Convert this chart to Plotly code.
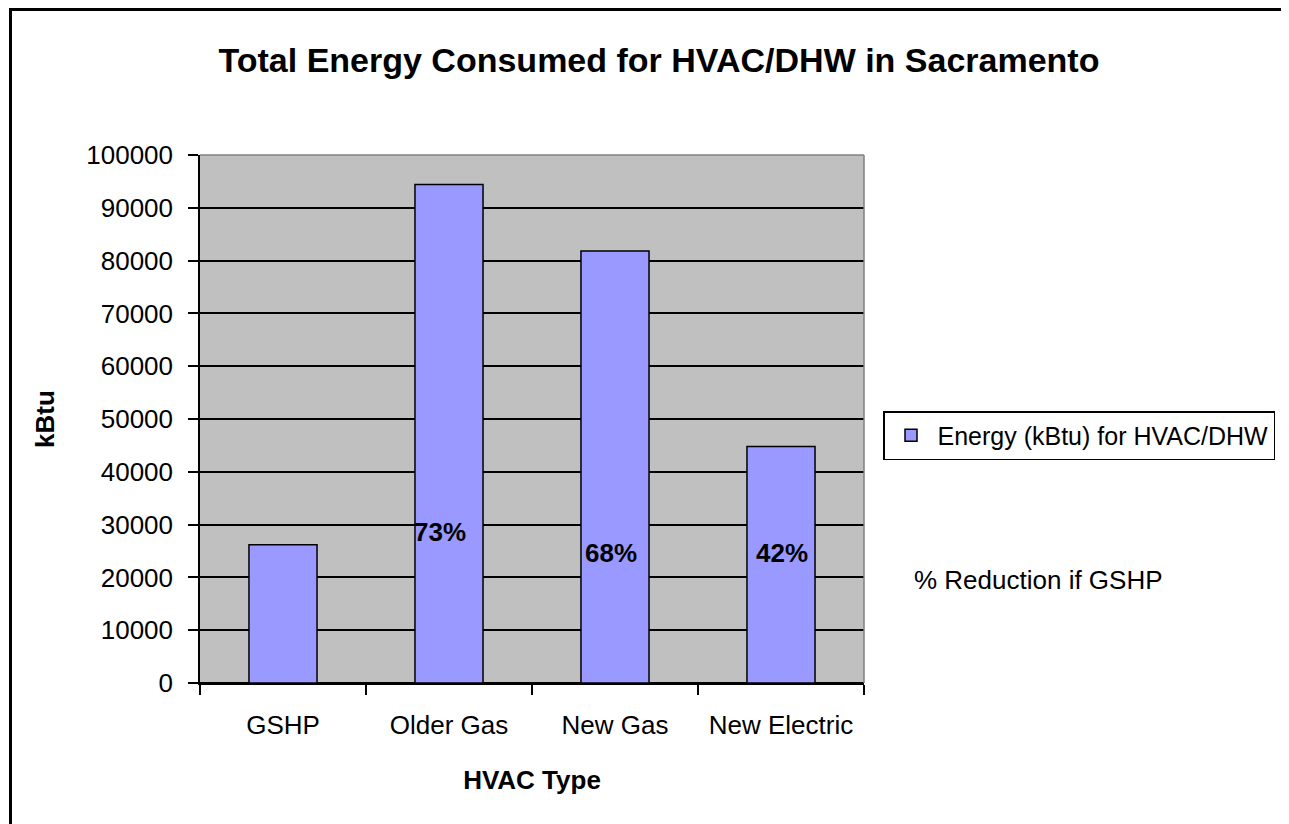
import plotly.graph_objects as go

categories = ["GSHP", "Older Gas", "New Gas", "New Electric"]
energy_kbtu = [26200, 94400, 81800, 44800]
series_name = "Energy (kBtu) for HVAC/DHW"
reduction_labels = ["", "73%", "68%", "42%"]
reduction_label_y = [None, 28600, 24600, 24600]

FONT = "Arial, Liberation Sans, sans-serif"
OFF = 8  # page body margin
W, H = 1289 - OFF, 824 - OFF
L, T = 200 - OFF, 155 - OFF
PW, PH = 664, 528
R = W - L - PW
B = H - T - PH


def px_x(sx):
    return (sx - 200) / PW


def px_y(sy):
    return (683 - sy) / PH


fig = go.Figure()
fig.add_trace(go.Bar(
    x=categories, y=energy_kbtu, name=series_name,
    marker=dict(color="#9999FF", line=dict(color="black", width=1.5)),
    showlegend=True,
))

shifts = [0, -9, -4, 1]
for cat, lab, yv, xs in zip(categories, reduction_labels, reduction_label_y, shifts):
    if lab:
        fig.add_annotation(x=cat, y=yv, text="<b>%s</b>" % lab, showarrow=False,
                           xshift=xs, font=dict(family=FONT, size=26, color="black"))

fig.add_annotation(xref="paper", yref="paper", x=px_x(912), y=px_y(580),
                   xanchor="left", yanchor="middle", text="% Reduction if GSHP",
                   showarrow=False, font=dict(family=FONT, size=26, color="black"))

# plot area top/right border (gray)
fig.add_shape(type="line", xref="paper", yref="paper", x0=0, x1=1, y0=1, y1=1,
              line=dict(color="#808080", width=1.5), layer="above")
fig.add_shape(type="line", xref="paper", yref="paper", x0=1, x1=1, y0=0, y1=1,
              line=dict(color="#808080", width=1.5), layer="above")
# chart outer border
fig.add_shape(type="rect", xref="paper", yref="paper",
              x0=px_x(10.5), x1=px_x(1310),
              y0=px_y(840), y1=px_y(9.5),
              line=dict(color="black", width=3), fillcolor="rgba(0,0,0,0)", layer="above")

fig.update_layout(
    width=W, height=H,
    margin=dict(l=L, r=R, t=T, b=B, autoexpand=False),
    paper_bgcolor="white", plot_bgcolor="#C0C0C0",
    bargap=0.59,
    font=dict(family=FONT, size=26, color="black"),
    title=dict(text="<b>Total Energy Consumed for HVAC/DHW in Sacramento</b>",
               x=(659 - OFF) / W, xanchor="center", y=1 - (60 - OFF) / H, yanchor="middle",
               font=dict(family=FONT, size=34, color="black")),
    legend=dict(x=px_x(883), y=px_y(411), xanchor="left", yanchor="top",
                bordercolor="black", borderwidth=1.5, bgcolor="white", itemwidth=43,
                font=dict(family=FONT, size=25, color="black")),
    xaxis=dict(
        type="category", tickson="boundaries", ticks="outside", ticklen=10,
        tickcolor="black", tickwidth=1.5, showline=True, linecolor="black", linewidth=1.5,
        showgrid=False, ticklabelstandoff=18,
        title=dict(text="<b>HVAC Type</b>", font=dict(family=FONT, size=26), standoff=32),
        automargin=False,
    ),
    yaxis=dict(
        range=[0, 100000], dtick=10000, tickformat="d",
        ticks="outside", ticklen=10, tickcolor="black", tickwidth=1.5,
        showline=True, linecolor="black", linewidth=1.5,
        showgrid=True, gridcolor="black", gridwidth=1.5,
        zeroline=True, zerolinecolor="black", zerolinewidth=1.5,
        ticklabelstandoff=10,
        title=dict(text="<b>kBtu</b>", font=dict(family=FONT, size=26), standoff=24),
        automargin=False,
    ),
)

fig.write_html("out.html")
